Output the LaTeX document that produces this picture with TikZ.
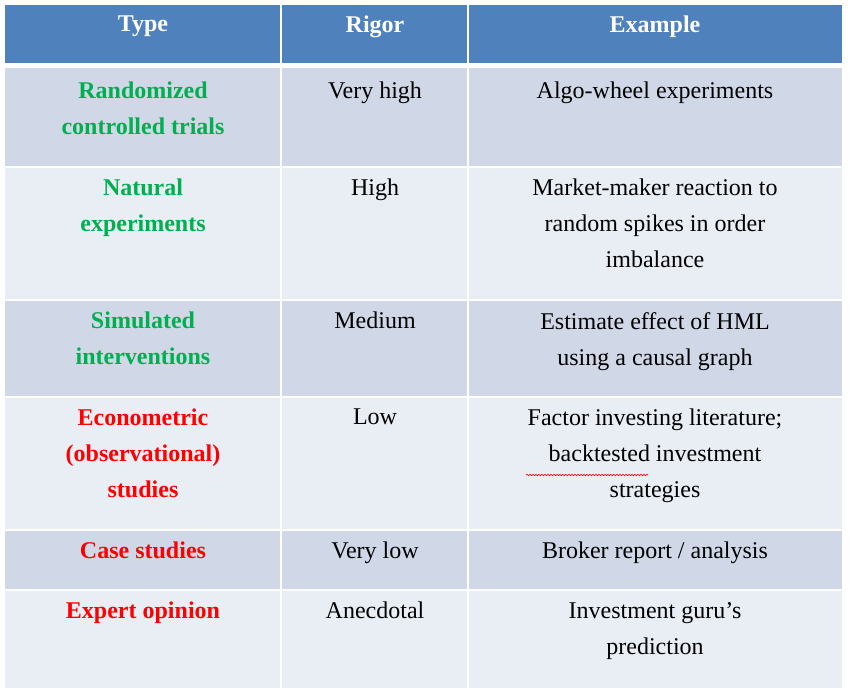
\documentclass[tikz,border=0pt]{standalone}
\usepackage{fontspec}
\setmainfont{Liberation Serif}
\usetikzlibrary{decorations.pathmorphing}
\definecolor{hdr}{HTML}{4F81BD}
\definecolor{rowA}{HTML}{D0D8E8}
\definecolor{rowB}{HTML}{E9EDF4}
\definecolor{grn}{HTML}{00B050}
\definecolor{rd}{HTML}{FF0000}
\begin{document}
\begin{tikzpicture}[x=1pt,y=-1pt,
  cell/.style={anchor=north,align=center,inner sep=0pt,font=\fontsize{24}{36}\selectfont},
  hd/.style={cell,text=white,font=\bfseries\fontsize{24}{36}\selectfont},
  ty/.style={cell,font=\bfseries\fontsize{24}{36}\selectfont}]
\useasboundingbox (0,0) rectangle (849,693);
\fill[white] (0,0) rectangle (849,693);
% backgrounds
\fill[hdr] (5,5) rectangle (842,63);
\foreach \t/\b/\c in {68/166/rowA,168/299/rowB,301/396/rowA,398/529/rowB,531/589/rowA,591/688/rowB}
  \fill[\c] (5,\t) rectangle (842,\b);
\draw[white,line width=2pt] (281,5) -- (281,688) (468,5) -- (468,688);
% header
\node[hd] (h1) at (143,16) {Type};
\node[hd] (h2) at (375,16) {Rigor};
\node[hd] (h3) at (655,16) {Example};
% rows
\node[ty,text=grn] (t1) at (143,82) {Randomized\\controlled trials};
\node[cell] (r1) at (375,82) {Very high};
\node[cell] (e1) at (655,82) {Algo-wheel experiments};
\node[ty,text=grn] (t2) at (143,179) {Natural\\experiments};
\node[cell] (r2) at (375,179) {High};
\node[cell] (e2) at (655,179) {Market-maker reaction to\\random spikes in order\\imbalance};
\node[ty,text=grn] (t3) at (143,312) {Simulated\\interventions};
\node[cell] (r3) at (375,312) {Medium};
\node[cell] (e3) at (655,312) {Estimate effect of HML\\using a causal graph};
\node[ty,text=rd] (t4) at (143,409) {Econometric\\(observational)\\studies};
\node[cell] (r4) at (375,409) {Low};
\node[cell] (e4) at (655,409) {Factor investing literature;\\backtested investment\\strategies};
\node[ty,text=rd] (t5) at (143,542) {Case studies};
\node[cell] (r5) at (375,542) {Very low};
\node[cell] (e5) at (655,542) {Broker report / analysis};
\node[ty,text=rd] (t6) at (143,602) {Expert opinion};
\node[cell] (r6) at (375,602) {Anecdotal};
\node[cell] (e6) at (655,602) {Investment guru’s\\prediction};
\draw[rd,line width=0.6pt,decorate,decoration={snake,amplitude=0.8pt,segment length=3pt}] (526,475) -- (648,475);
\end{tikzpicture}
\end{document}
